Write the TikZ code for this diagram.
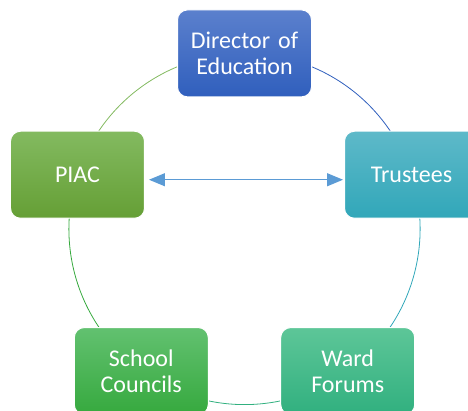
\documentclass[tikz,border=0pt]{standalone}
\usepackage{fontspec}
\setmainfont{Carlito}
\usetikzlibrary{arrows.meta}
\definecolor{dirTop}{HTML}{5B80CD}
\definecolor{dirBot}{HTML}{305FBD}
\definecolor{trusTop}{HTML}{5EB9C9}
\definecolor{trusBot}{HTML}{31A7B9}
\definecolor{wardTop}{HTML}{5DC698}
\definecolor{wardBot}{HTML}{31B07F}
\definecolor{schoolTop}{HTML}{62C170}
\definecolor{schoolBot}{HTML}{36A93E}
\definecolor{piacTop}{HTML}{83BA60}
\definecolor{piacBot}{HTML}{659F35}
\definecolor{arrowBlue}{HTML}{5B9BD5}
\tikzset{
    objRoundRectangle/.style={rectangle, rounded corners=10pt, minimum width=134pt, minimum height=87pt, text centered, draw=white, line width=1pt, text=white, text width=125pt, font=\fontsize{24}{26}\selectfont},
    ring/.style={line width=0.8pt},
    arrow/.style={line width=1.2pt, draw=arrowBlue, {Triangle[width=13pt,length=16pt]}-{Triangle[width=13pt,length=16pt]}}
}
\begin{document}
\begin{tikzpicture}[x=1pt, y=1pt]
    \useasboundingbox (0,0) rectangle (468,-411);
    \clip (0,0) rectangle (468,-411);
    \coordinate (hub) at (244.5,-229);

    \draw [ring, draw=dirBot] (hub) ++(90:175.6) arc[start angle=90, end angle=18, radius=175.6];
    \draw [ring, draw=trusBot] (hub) ++(18:175.6) arc[start angle=18, end angle=-54, radius=175.6];
    \draw [ring, draw=wardBot] (hub) ++(-54:175.6) arc[start angle=-54, end angle=-126, radius=175.6];
    \draw [ring, draw=schoolBot] (hub) ++(-126:175.6) arc[start angle=-126, end angle=-198, radius=175.6];
    \draw [ring, draw=piacTop] (hub) ++(162:175.6) arc[start angle=162, end angle=90, radius=175.6];

    \node (dir) [objRoundRectangle, top color=dirTop, bottom color=dirBot] at ([shift={(90:175.6)}]hub) {Director of\\Education};
    \node (trus) [objRoundRectangle, top color=trusTop, bottom color=trusBot] at ([shift={(18:175.6)}]hub) {Trustees};
    \node (ward) [objRoundRectangle, top color=wardTop, bottom color=wardBot] at ([shift={(-54:175.6)}]hub) {Ward\\Forums};
    \node (school) [objRoundRectangle, top color=schoolTop, bottom color=schoolBot] at ([shift={(-126:175.6)}]hub) {School\\Councils};
    \node (piac) [objRoundRectangle, top color=piacTop, bottom color=piacBot] at ([shift={(162:175.6)}]hub) {PIAC};

    \draw [arrow, shorten <=4pt, shorten >=1pt] ([yshift=-5pt]piac.east) -- ([yshift=-5pt]trus.west);

\end{tikzpicture}
\end{document}
